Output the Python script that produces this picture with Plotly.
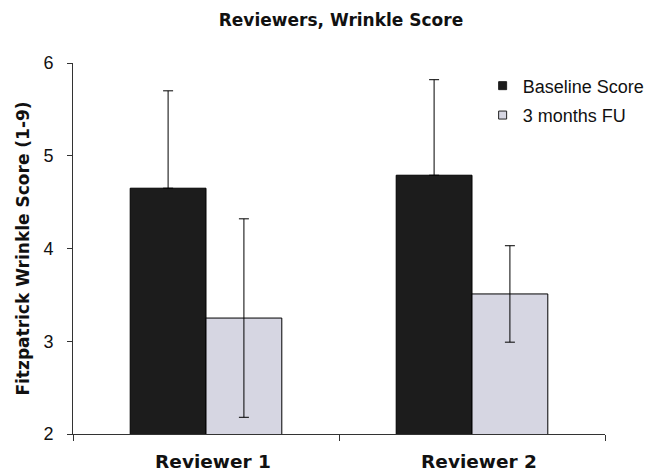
import plotly.graph_objects as go

reviewers = ["Reviewer 1", "Reviewer 2"]
baseline = [4.65, 4.79]
baseline_err = [1.05, 1.03]
followup = [3.25, 3.51]
followup_err = [1.07, 0.52]
y_ticks = [2, 3, 4, 5, 6]

SANS = "Liberation Sans, Arial, sans-serif"
WIDE = "DejaVu Sans, Verdana, sans-serif"
DARK = "#1c1c1c"
LIGHT = "#d6d6e2"

fig = go.Figure()
# Bars with error whiskers (baseline whisker drawn upward only)
fig.add_trace(go.Bar(
    name="Baseline Score", x=reviewers, y=baseline, showlegend=False,
    marker=dict(color=DARK, line=dict(color="black", width=1)),
    error_y=dict(type="data", array=baseline_err, arrayminus=[0] * len(baseline_err),
                 symmetric=False, color="black", thickness=1, width=5),
))
fig.add_trace(go.Bar(
    name="3 months FU", x=reviewers, y=followup, showlegend=False,
    marker=dict(color=LIGHT, line=dict(color="black", width=1)),
    error_y=dict(type="data", array=followup_err, color="black", thickness=1, width=5),
))
# Legend entries with small square keys
for name, color, grp in [("Baseline Score", DARK, "a"), ("3 months FU", LIGHT, "b")]:
    fig.add_trace(go.Scatter(
        x=[None], y=[None], mode="markers", name=name, legendgroup=grp,
        marker=dict(symbol="square", size=8, color=color, line=dict(color="#222", width=1)),
    ))

fig.update_layout(
    width=647, height=475,
    margin=dict(l=73, r=42, t=63, b=41, autoexpand=False),
    paper_bgcolor="white", plot_bgcolor="white",
    barmode="group", bargap=0.43, bargroupgap=0,
    font=dict(family=SANS, color="#111"),
    title=dict(text="<b>Reviewers, Wrinkle Score</b>", x=0.527, xanchor="center",
               y=0.958, yanchor="middle", font=dict(size=17, family=WIDE)),
    legend=dict(x=0.77, y=0.988, xanchor="left", yanchor="top",
                font=dict(size=18, family=SANS), bgcolor="rgba(0,0,0,0)",
                tracegroupgap=3),
    showlegend=True,
)
fig.update_xaxes(
    showline=True, linecolor="#333", linewidth=1,
    ticks="outside", tickson="boundaries", ticklen=6, tickcolor="#333",
    tickfont=dict(size=18.5, family=WIDE), showgrid=False,
    ticklabelstandoff=11, ticklabelshift=7,
    tickprefix="<b>", ticksuffix="</b>",
)
fig.update_yaxes(
    range=[2, 6], tickvals=y_ticks, showline=True, linecolor="#333", linewidth=1,
    ticks="outside", ticklen=5, tickcolor="#333", showgrid=False, zeroline=False,
    tickfont=dict(size=18, family=SANS), ticklabelstandoff=10,
    title=dict(text="<b>Fitzpatrick Wrinkle Score (1-9)</b>",
               font=dict(size=17, family=WIDE), standoff=9),
)

fig.write_html("out.html")
